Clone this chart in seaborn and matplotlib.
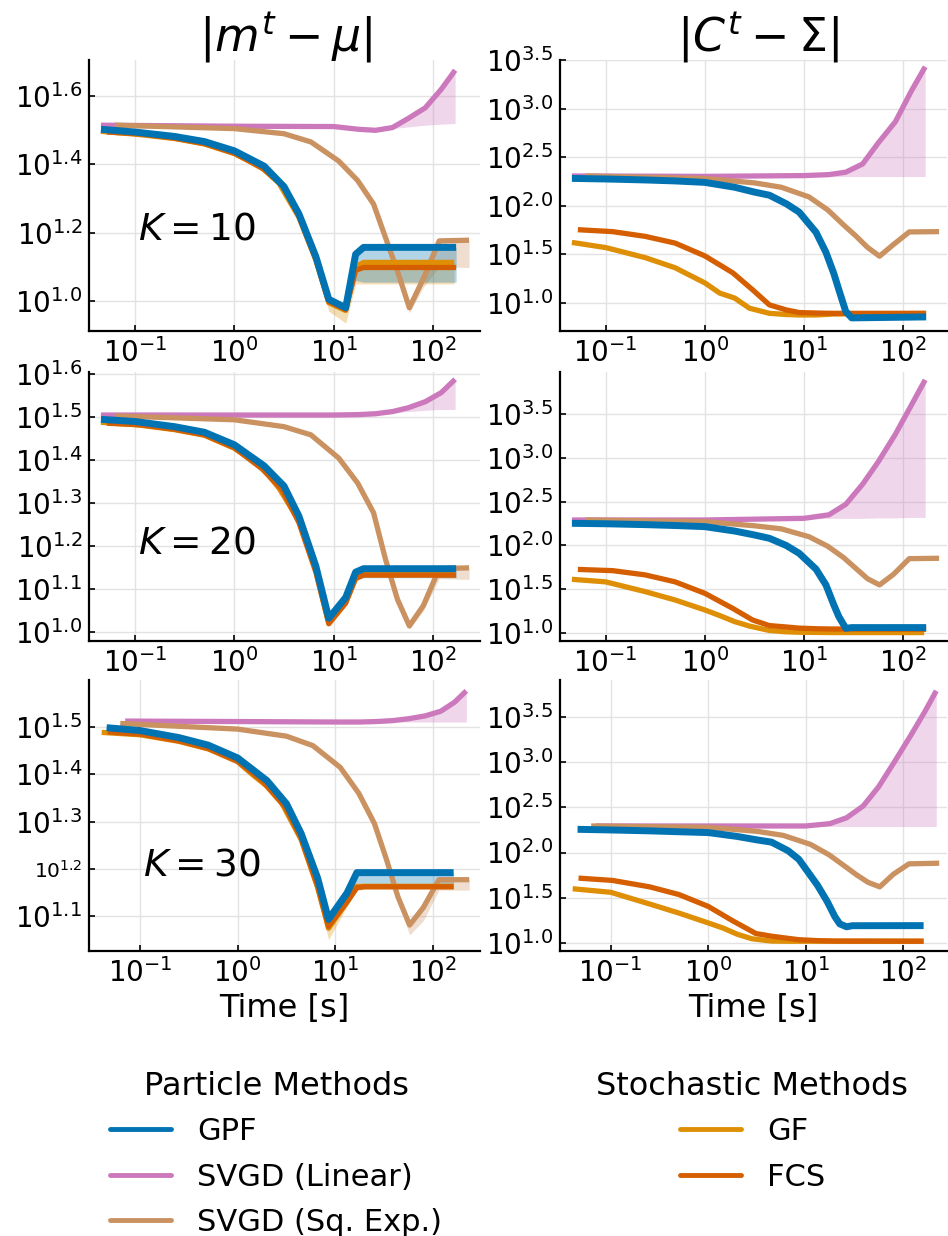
import numpy as np
import matplotlib
matplotlib.use('Agg')
import matplotlib.pyplot as plt
import seaborn as sns
from matplotlib.lines import Line2D

# all values are log10 exponents (time and error)

# ---------- K = 10 ----------
t_gpf_1 = [-1.34, -1.0, -0.6, -0.3, 0.0, 0.3, 0.5, 0.65, 0.82, 0.95, 1.12, 1.22, 1.3, 1.35, 1.42, 1.48, 2.23]
m_gpf_1 = [1.503, 1.495, 1.482, 1.467, 1.44, 1.395, 1.335, 1.255, 1.13, 1.005, 0.98, 1.137, 1.157, 1.157, 1.157, 1.157, 1.157]
m_gpf_1_lo = [1.5, 1.492, 1.479, 1.464, 1.437, 1.392, 1.332, 1.252, 1.127, 1.0, 0.975, 1.06, 1.055, 1.055, 1.055, 1.055, 1.055]
c_gpf_1 = [2.281, 2.275, 2.265, 2.255, 2.24, 2.19, 2.14, 2.108, 2.02, 1.934, 1.726, 1.52, 1.30, 1.135, 0.91, 0.845, 0.855]

t_gf_1 = [-1.34, -1.0, -0.6, -0.3, 0.0, 0.15, 0.3, 0.45, 0.65, 0.82, 0.95, 1.12, 1.22, 1.3, 2.21]
m_gf_1 = [1.497, 1.489, 1.476, 1.46, 1.432, 1.41, 1.385, 1.345, 1.245, 1.12, 0.995, 0.972, 1.10, 1.113, 1.113]
m_gf_1_lo = [1.494, 1.486, 1.473, 1.457, 1.429, 1.407, 1.382, 1.342, 1.24, 1.11, 0.97, 0.935, 1.05, 1.05, 1.05]
c_gf_1 = [1.622, 1.569, 1.465, 1.361, 1.205, 1.10, 1.049, 0.944, 0.892, 0.88, 0.875, 0.875, 0.88, 0.885, 0.89]

t_fcs_1 = [-1.28, -0.93, -0.6, -0.3, 0.0, 0.28, 0.48, 0.65, 0.82, 0.95, 1.12, 1.22, 1.3, 2.23]
m_fcs_1 = [1.495, 1.489, 1.477, 1.461, 1.433, 1.39, 1.34, 1.248, 1.122, 0.998, 0.975, 1.09, 1.098, 1.098]
c_fcs_1 = [1.753, 1.733, 1.684, 1.615, 1.483, 1.31, 1.135, 0.979, 0.927, 0.9, 0.895, 0.893, 0.892, 0.892]

t_lin_1 = [-1.34, 0.0, 1.0, 1.25, 1.42, 1.59, 1.75, 1.92, 2.08, 2.22]
m_lin_1 = [1.515, 1.512, 1.511, 1.503, 1.50, 1.508, 1.535, 1.566, 1.62, 1.676]
m_lin_1_lo = [1.515, 1.512, 1.511, 1.503, 1.50, 1.505, 1.51, 1.515, 1.518, 1.52]
c_lin_1 = [2.306, 2.302, 2.31, 2.32, 2.345, 2.43, 2.65, 2.865, 3.18, 3.43]
c_lin_1_lo = [2.306, 2.302, 2.30, 2.30, 2.30, 2.30, 2.30, 2.30, 2.30, 2.30]

t_sq_1 = [-1.2, 0.0, 0.5, 0.77, 1.05, 1.24, 1.4, 1.52, 1.64, 1.76, 1.9, 2.06, 2.36]
m_sq_1 = [1.515, 1.505, 1.49, 1.466, 1.41, 1.353, 1.284, 1.186, 1.088, 0.98, 1.065, 1.176, 1.178]
m_sq_1_lo = [1.512, 1.502, 1.487, 1.463, 1.407, 1.35, 1.28, 1.18, 1.075, 0.965, 1.04, 1.10, 1.098]
c_sq_1 = [2.306, 2.28, 2.235, 2.19, 2.09, 1.955, 1.80, 1.69, 1.57, 1.48, 1.60, 1.73, 1.733]

# ---------- K = 20 ----------
t_gpf_2 = [-1.34, -1.0, -0.6, -0.3, 0.0, 0.3, 0.5, 0.65, 0.82, 0.95, 1.12, 1.22, 1.3, 1.35, 1.42, 1.48, 2.23]
m_gpf_2 = [1.495, 1.49, 1.478, 1.465, 1.436, 1.387, 1.34, 1.27, 1.154, 1.033, 1.081, 1.14, 1.148, 1.148, 1.148, 1.148, 1.148]
m_gpf_2_lo = [1.492, 1.487, 1.475, 1.462, 1.433, 1.384, 1.337, 1.267, 1.15, 1.028, 1.07, 1.125, 1.127, 1.127, 1.127, 1.127, 1.127]
c_gpf_2 = [2.253, 2.248, 2.238, 2.228, 2.215, 2.165, 2.12, 2.082, 2.0, 1.911, 1.73, 1.55, 1.32, 1.188, 1.055, 1.063, 1.063]

t_gf_2 = [-1.34, -1.0, -0.6, -0.3, 0.0, 0.15, 0.3, 0.45, 0.65, 0.82, 0.95, 1.12, 1.22, 1.3, 2.21]
m_gf_2 = [1.488, 1.483, 1.471, 1.458, 1.428, 1.405, 1.378, 1.335, 1.26, 1.145, 1.022, 1.07, 1.13, 1.139, 1.139]
c_gf_2 = [1.614, 1.585, 1.473, 1.378, 1.264, 1.20, 1.131, 1.08, 1.03, 1.015, 1.01, 1.008, 1.007, 1.006, 1.006]

t_fcs_2 = [-1.28, -0.93, -0.6, -0.3, 0.0, 0.28, 0.48, 0.65, 0.82, 0.95, 1.12, 1.22, 1.3, 2.23]
m_fcs_2 = [1.486, 1.482, 1.472, 1.459, 1.429, 1.38, 1.332, 1.255, 1.14, 1.02, 1.068, 1.125, 1.133, 1.133]
c_fcs_2 = [1.727, 1.713, 1.664, 1.585, 1.454, 1.283, 1.15, 1.086, 1.07, 1.057, 1.05, 1.048, 1.047, 1.044]

t_lin_2 = [-1.34, 0.0, 1.0, 1.25, 1.42, 1.59, 1.75, 1.92, 2.08, 2.22]
m_lin_2 = [1.505, 1.505, 1.505, 1.506, 1.508, 1.513, 1.522, 1.536, 1.557, 1.588]
m_lin_2_lo = [1.505, 1.505, 1.505, 1.506, 1.508, 1.51, 1.513, 1.516, 1.518, 1.518]
c_lin_2 = [2.291, 2.291, 2.31, 2.35, 2.47, 2.70, 2.96, 3.27, 3.60, 3.89]
c_lin_2_lo = [2.291, 2.291, 2.30, 2.31, 2.31, 2.31, 2.315, 2.315, 2.32, 2.32]

t_sq_2 = [-1.2, 0.0, 0.5, 0.77, 1.05, 1.24, 1.4, 1.52, 1.64, 1.76, 1.9, 2.06, 2.36]
m_sq_2 = [1.503, 1.494, 1.478, 1.459, 1.405, 1.347, 1.278, 1.17, 1.077, 1.015, 1.062, 1.148, 1.15]
m_sq_2_lo = [1.5, 1.491, 1.475, 1.456, 1.402, 1.344, 1.275, 1.165, 1.07, 1.008, 1.05, 1.125, 1.123]
c_sq_2 = [2.291, 2.272, 2.225, 2.19, 2.10, 1.99, 1.86, 1.74, 1.62, 1.55, 1.67, 1.85, 1.854]

# ---------- K = 30 ----------
t_gpf_3 = [-1.34, -1.0, -0.6, -0.3, 0.0, 0.3, 0.5, 0.65, 0.82, 0.93, 1.12, 1.22, 1.3, 1.35, 1.42, 1.48, 2.21]
m_gpf_3 = [1.499, 1.493, 1.478, 1.462, 1.435, 1.387, 1.338, 1.275, 1.18, 1.093, 1.149, 1.192, 1.192, 1.192, 1.192, 1.192, 1.192]
m_gpf_3_lo = [1.496, 1.49, 1.475, 1.459, 1.432, 1.384, 1.335, 1.272, 1.177, 1.09, 1.135, 1.17, 1.169, 1.169, 1.169, 1.169, 1.169]
c_gpf_3 = [2.257, 2.25, 2.24, 2.23, 2.221, 2.178, 2.14, 2.115, 2.02, 1.925, 1.64, 1.46, 1.29, 1.21, 1.178, 1.19, 1.191]

t_gf_3 = [-1.39, -1.0, -0.6, -0.3, 0.0, 0.15, 0.3, 0.45, 0.65, 0.82, 0.93, 1.12, 1.22, 1.3, 2.21]
m_gf_3 = [1.489, 1.484, 1.47, 1.454, 1.427, 1.40, 1.375, 1.34, 1.262, 1.16, 1.074, 1.13, 1.163, 1.163, 1.163]
m_gf_3_lo = [1.486, 1.481, 1.467, 1.451, 1.424, 1.397, 1.372, 1.337, 1.258, 1.15, 1.05, 1.12, 1.155, 1.157, 1.157]
c_gf_3 = [1.599, 1.56, 1.43, 1.33, 1.221, 1.165, 1.095, 1.045, 1.02, 1.018, 1.018, 1.018, 1.018, 1.018, 1.018]

t_fcs_3 = [-1.33, -0.98, -0.6, -0.3, 0.0, 0.26, 0.49, 0.65, 0.82, 0.93, 1.12, 1.22, 1.3, 2.21]
m_fcs_3 = [1.49, 1.485, 1.471, 1.455, 1.428, 1.385, 1.33, 1.265, 1.162, 1.078, 1.13, 1.16, 1.162, 1.162]
c_fcs_3 = [1.717, 1.691, 1.62, 1.535, 1.404, 1.239, 1.103, 1.074, 1.05, 1.035, 1.025, 1.022, 1.02, 1.018]

t_lin_3 = [-1.15, 0.0, 1.0, 1.25, 1.42, 1.59, 1.75, 1.92, 2.08, 2.22, 2.34]
m_lin_3 = [1.513, 1.512, 1.511, 1.511, 1.512, 1.514, 1.518, 1.524, 1.534, 1.553, 1.577]
m_lin_3_lo = [1.513, 1.512, 1.511, 1.511, 1.511, 1.511, 1.511, 1.511, 1.511, 1.511, 1.511]
c_lin_3 = [2.294, 2.294, 2.294, 2.32, 2.385, 2.515, 2.73, 3.02, 3.30, 3.555, 3.79]
c_lin_3_lo = [2.294, 2.294, 2.294, 2.29, 2.287, 2.287, 2.287, 2.287, 2.287, 2.287, 2.287]

t_sq_3 = [-1.2, 0.0, 0.5, 0.77, 1.05, 1.24, 1.4, 1.52, 1.64, 1.76, 1.9, 2.06, 2.37]
m_sq_3 = [1.508, 1.496, 1.481, 1.461, 1.415, 1.36, 1.296, 1.222, 1.141, 1.081, 1.118, 1.177, 1.177]
m_sq_3_lo = [1.505, 1.493, 1.478, 1.458, 1.412, 1.357, 1.292, 1.215, 1.13, 1.06, 1.09, 1.155, 1.155]
c_sq_3 = [2.294, 2.279, 2.235, 2.19, 2.09, 1.975, 1.85, 1.755, 1.67, 1.62, 1.76, 1.875, 1.882]

K_values = [10, 20, 30]
left_yticks = [[1.0, 1.2, 1.4, 1.6], [1.0, 1.1, 1.2, 1.3, 1.4, 1.5, 1.6], [1.1, 1.2, 1.3, 1.4, 1.5]]
right_yticks = [[1.0, 1.5, 2.0, 2.5, 3.0, 3.5]] * 3
left_ylim = [(0.912, 1.706), (0.98, 1.605), (1.026, 1.60)]
right_ylim = [(0.71, 3.5), (0.91, 3.98), (0.91, 3.91)]
left_xlim = [(-1.46, 2.47), (-1.46, 2.47), (-1.52, 2.48)]
right_xlim = [(-1.46, 2.44), (-1.46, 2.44), (-1.52, 2.45)]
xtick_exp = [-1, 0, 1, 2]

sns.set_theme(style='ticks')
plt.rcParams['font.family'] = ['DejaVu Sans']
plt.rcParams['mathtext.fontset'] = 'dejavusans'
plt.rcParams.update({'text.color': 'black', 'axes.labelcolor': 'black',
                     'xtick.color': 'black', 'ytick.color': 'black'})

pal = sns.color_palette('colorblind')
c_gpf, c_gf, c_fcs, c_lin, c_sq = pal[0], pal[1], pal[3], pal[4], pal[5]

rows = [
    dict(gpf=(t_gpf_1, m_gpf_1, m_gpf_1_lo, c_gpf_1), gf=(t_gf_1, m_gf_1, m_gf_1_lo, c_gf_1),
         fcs=(t_fcs_1, m_fcs_1, None, c_fcs_1), lin=(t_lin_1, m_lin_1, m_lin_1_lo, c_lin_1, c_lin_1_lo),
         sq=(t_sq_1, m_sq_1, m_sq_1_lo, c_sq_1)),
    dict(gpf=(t_gpf_2, m_gpf_2, m_gpf_2_lo, c_gpf_2), gf=(t_gf_2, m_gf_2, None, c_gf_2),
         fcs=(t_fcs_2, m_fcs_2, None, c_fcs_2), lin=(t_lin_2, m_lin_2, m_lin_2_lo, c_lin_2, c_lin_2_lo),
         sq=(t_sq_2, m_sq_2, m_sq_2_lo, c_sq_2)),
    dict(gpf=(t_gpf_3, m_gpf_3, m_gpf_3_lo, c_gpf_3), gf=(t_gf_3, m_gf_3, m_gf_3_lo, c_gf_3),
         fcs=(t_fcs_3, m_fcs_3, None, c_fcs_3), lin=(t_lin_3, m_lin_3, m_lin_3_lo, c_lin_3, c_lin_3_lo),
         sq=(t_sq_3, m_sq_3, m_sq_3_lo, c_sq_3)),
]


def draw(ax, t, y, lo, color, lw):
    x = 10 ** np.asarray(t)
    if lo is not None:
        ax.fill_between(x, 10 ** np.asarray(lo), 10 ** np.asarray(y), color=color, alpha=0.3, lw=0)
    sns.lineplot(x=x, y=10 ** np.asarray(y), ax=ax, color=color, lw=lw, sort=False,
                 solid_capstyle='butt')


def style_axis(ax, xlim, ylim, yticks, small=None):
    ax.set_xscale('log')
    ax.set_yscale('log')
    ax.set_xlim(10 ** xlim[0], 10 ** xlim[1])
    ax.set_ylim(10 ** ylim[0], 10 ** ylim[1])
    ax.set_xticks([10.0 ** e for e in xtick_exp])
    ax.set_xticklabels([r'$10^{%d}$' % e for e in xtick_exp])
    ax.set_yticks([10 ** v for v in yticks])
    ax.set_yticklabels([r'$10^{%.1f}$' % v for v in yticks])
    ax.minorticks_off()
    ax.tick_params(direction='in', length=4, width=1.2, labelsize=20, pad=5, color='black')
    ax.grid(True, color='#e2e2e2', lw=1.0)
    ax.set_axisbelow(True)
    for s in ['top', 'right']:
        ax.spines[s].set_visible(False)
    for s in ['left', 'bottom']:
        ax.spines[s].set_linewidth(1.6)
        ax.spines[s].set_color('black')
    if small is not None:
        for lab, v in zip(ax.get_yticklabels(), yticks):
            if abs(v - small) < 1e-9:
                lab.set_fontsize(14.5)


W, H = 948, 1236
fig = plt.figure(figsize=(W / 100, H / 100), dpi=100)
row_px = [(60, 331), (372, 641), (680, 951)]

for i, (top, bot) in enumerate(row_px):
    d = rows[i]
    b = 1 - bot / H
    h = (bot - top) / H
    axl = fig.add_axes([89 / W, b, (480 - 89) / W, h])
    axr = fig.add_axes([560 / W, b, (947 - 560) / W, h])

    # left: mean error
    draw(axl, d['lin'][0], d['lin'][1], d['lin'][2], c_lin, 3.8)
    draw(axl, d['sq'][0], d['sq'][1], d['sq'][2], c_sq, 3.8)
    draw(axl, d['gf'][0], d['gf'][1], d['gf'][2], c_gf, 3.8)
    draw(axl, d['fcs'][0], d['fcs'][1], d['fcs'][2], c_fcs, 3.8)
    draw(axl, d['gpf'][0], d['gpf'][1], d['gpf'][2], c_gpf, 5.0)

    # right: covariance error
    draw(axr, d['lin'][0], d['lin'][3], d['lin'][4], c_lin, 3.8)
    draw(axr, d['sq'][0], d['sq'][3], None, c_sq, 3.8)
    draw(axr, d['gf'][0], d['gf'][3], None, c_gf, 3.8)
    draw(axr, d['fcs'][0], d['fcs'][3], None, c_fcs, 3.8)
    draw(axr, d['gpf'][0], d['gpf'][3], None, c_gpf, 5.0)

    style_axis(axl, left_xlim[i], left_ylim[i], left_yticks[i], small=1.2 if i == 2 else None)
    style_axis(axr, right_xlim[i], right_ylim[i], right_yticks[i])

    kx = 0.125 if i < 2 else 0.137
    ky = [0.373, 0.364, 0.314][i]
    axl.text(kx, ky, r'$K = %d$' % K_values[i], transform=axl.transAxes,
             fontsize=27, ha='left', va='center')

    if i == 2:
        axl.set_xlabel('Time [s]', fontsize=23, labelpad=4)
        axr.set_xlabel('Time [s]', fontsize=23, labelpad=4)

fig.text(286 / W, 1 - 37 / H, r'$|m^t - \mu|$', fontsize=33, ha='center', va='center')
fig.text(758 / W, 1 - 37 / H, r'$|C^t - \Sigma|$', fontsize=33, ha='center', va='center')

# legends: titles as separate text, entries as legends without title
fig.text(276 / W, 1 - 1095 / H, 'Particle Methods', fontsize=23, ha='center', va='baseline')
fig.text(752 / W, 1 - 1095 / H, 'Stochastic Methods', fontsize=23, ha='center', va='baseline')

h_part = [Line2D([], [], color=c_gpf, lw=3.5), Line2D([], [], color=c_lin, lw=3.5),
          Line2D([], [], color=c_sq, lw=3.5)]
h_stoch = [Line2D([], [], color=c_gf, lw=3.5), Line2D([], [], color=c_fcs, lw=3.5)]
leg_kw = dict(frameon=False, fontsize=22, handlelength=2.0, handletextpad=0.85,
              labelspacing=0.54, borderpad=0, borderaxespad=0, loc='upper left')
fig.legend(h_part, ['GPF', 'SVGD (Linear)', 'SVGD (Sq. Exp.)'],
           bbox_to_anchor=(110 / W, 1 - 1117 / H), **leg_kw)
fig.legend(h_stoch, ['GF', 'FCS'], bbox_to_anchor=(680 / W, 1 - 1117 / H), **leg_kw)

fig.savefig('out.png', dpi=100)
